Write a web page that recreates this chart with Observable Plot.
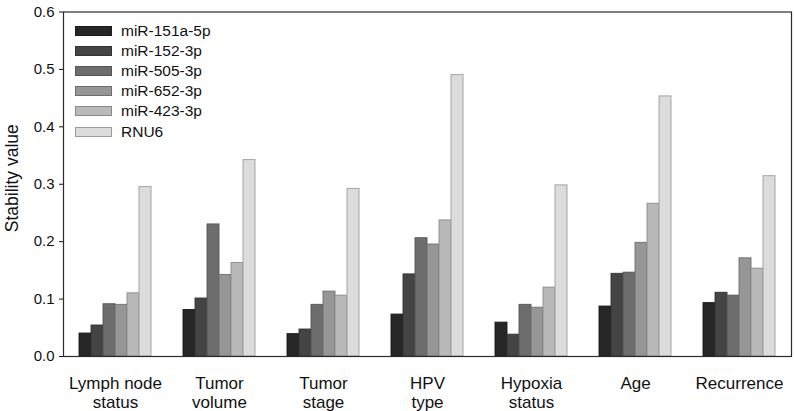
<!DOCTYPE html>
<html>
<head>
<meta charset="utf-8">
<script src="https://cdn.jsdelivr.net/npm/d3@7"></script>
<script src="https://cdn.jsdelivr.net/npm/@observablehq/plot@0.6"></script>
<style>
  html, body { margin: 0; padding: 0; background: #fff; }
  #wrap { position: relative; width: 795px; height: 411px; font-family: "Liberation Sans", Arial, sans-serif; }
  #legend { position: absolute; left: 75px; top: 20.6px; }
  .row { display: flex; align-items: center; height: 20.2px; }
  .sw { width: 35px; height: 8px; box-sizing: content-box; }
  .lab { margin-left: 9px; font-size: 15.5px; color: #111; }
  g[aria-label="y-axis label"] text { font-size: 17.5px; }
  g[aria-label="y-axis label"] { translate: 0px -6px; }
</style>
</head>
<body>
<div id="wrap"><div id="legend"></div></div>
<script>
const groups = ["Lymph node\nstatus", "Tumor\nvolume", "Tumor\nstage", "HPV\ntype", "Hypoxia\nstatus", "Age", "Recurrence"];
const series = ["miR-151a-5p", "miR-152-3p", "miR-505-3p", "miR-652-3p", "miR-423-3p", "RNU6"];
const miR151a5p = [0.040, 0.081, 0.039, 0.073, 0.059, 0.087, 0.093];
const miR1523p  = [0.054, 0.101, 0.047, 0.143, 0.038, 0.144, 0.111];
const miR5053p  = [0.091, 0.230, 0.090, 0.206, 0.090, 0.146, 0.106];
const miR6523p  = [0.090, 0.142, 0.113, 0.195, 0.085, 0.198, 0.171];
const miR4233p  = [0.110, 0.163, 0.106, 0.237, 0.120, 0.266, 0.153];
const RNU6      = [0.295, 0.342, 0.292, 0.490, 0.298, 0.453, 0.314];
const yTicks = [0, 0.1, 0.2, 0.3, 0.4, 0.5, 0.6];
const fills = ["#262626", "#444444", "#6d6d6d", "#969696", "#b9b9b9", "#dcdcdc"];
const strokes = ["#1a1a1a", "#333333", "#555555", "#6e6e6e", "#8a8a8a", "#9c9c9c"];

const seriesValues = [miR151a5p, miR1523p, miR5053p, miR6523p, miR4233p, RNU6];
const data = [];
groups.forEach((g, i) => series.forEach((s, j) => data.push({group: g, series: s, value: seriesValues[j][i]})));

const font = '"Liberation Sans", Arial, sans-serif';
const chart = Plot.plot({
  width: 795,
  height: 411,
  marginLeft: 62,
  marginRight: 3,
  marginTop: 11.5,
  marginBottom: 55,
  style: {fontFamily: font, color: "#111", background: "#fff"},
  fx: {domain: groups, padding: 0, label: null},
  x: {domain: series, paddingInner: 0, paddingOuter: 1.1, axis: null},
  y: {domain: [0, 0.6], label: "Stability value"},
  color: {domain: series, range: fills},
  marks: [
    Plot.barY(data, {fx: "group", x: "series", y: "value", fill: "series",
      stroke: d => strokes[series.indexOf(d.series)], strokeWidth: 0.9}),
    Plot.frame({facet: "super", stroke: "#2a2a2a", strokeWidth: 1.2}),
    Plot.axisY({ticks: yTicks, tickFormat: d3.format(".1f"), tickSize: 4, tickPadding: 5,
      fontSize: 15, label: "Stability value", labelAnchor: "center", labelOffset: 58,
      labelArrow: "none"}),
    Plot.axisFx({anchor: "bottom", tickSize: 0, tickPadding: 18.5, fontSize: 17,
      lineHeight: 1.14, label: null})
  ]
});
document.getElementById("wrap").prepend(chart);

const leg = d3.select("#legend");
series.forEach((s, j) => {
  const row = leg.append("div").attr("class", "row");
  row.append("div").attr("class", "sw")
    .style("background", fills[j]).style("border", `1px solid ${strokes[j]}`);
  row.append("div").attr("class", "lab").text(s);
});
</script>
</body>
</html>
